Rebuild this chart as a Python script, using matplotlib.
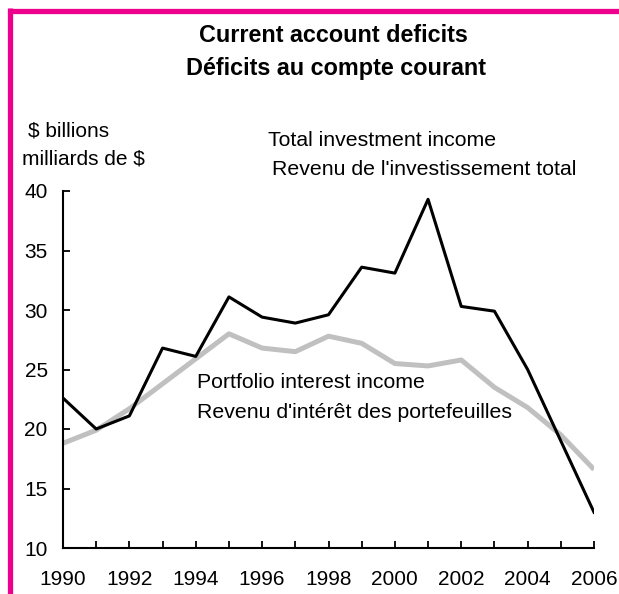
import matplotlib.pyplot as plt
from matplotlib.lines import Line2D

plt.rcParams['font.family'] = ['Liberation Sans', 'DejaVu Sans']

years = list(range(1990, 2007))
total_income = [22.6, 20.0, 21.1, 26.8, 26.1, 31.1, 29.4, 28.9, 29.6, 33.6,
                33.1, 39.3, 30.3, 29.9, 25.0, 19.0, 13.0]
portfolio_income = [18.8, 19.9, 21.7, 23.8, 25.9, 28.0, 26.8, 26.5, 27.8, 27.2,
                    25.5, 25.3, 25.8, 23.5, 21.8, 19.5, 16.6]
x_ticks = list(range(1990, 2007, 2))
y_ticks = [10, 15, 20, 25, 30, 35, 40]

W, H = 619, 594
fig = plt.figure(figsize=(W / 100, H / 100), dpi=100)
ax = fig.add_axes([63 / W, 1 - 548 / H, (594 - 63) / W, (548 - 191) / H])

ax.plot(years, portfolio_income, color='#c0c0c0', lw=3.6, solid_capstyle='butt', zorder=2)
ax.plot(years, total_income, color='black', lw=2.2, zorder=3)

ax.set_xlim(1990, 2006)
ax.set_ylim(10, 40)
ax.set_xticks(x_ticks)
ax.set_xticks(years, minor=True)
ax.set_yticks(y_ticks)
ax.tick_params(axis='both', which='both', direction='in', width=1.3, labelsize=15)
ax.tick_params(axis='x', which='both', length=5, pad=16)
ax.tick_params(axis='y', length=5, pad=11)
for side in ('top', 'right'):
    ax.spines[side].set_visible(False)
for side in ('left', 'bottom'):
    ax.spines[side].set_linewidth(1.5)

# titles and series labels
fig.text(333 / W, 1 - 36 / H, 'Current account deficits', ha='center', va='center',
         fontsize=16.8, fontweight='bold')
fig.text(336 / W, 1 - 69 / H, 'Déficits au compte courant', ha='center', va='center',
         fontsize=16.8, fontweight='bold')
fig.text(28 / W, 1 - 131 / H, '$ billions', ha='left', va='center', fontsize=15)
fig.text(22 / W, 1 - 159 / H, 'milliards de $', ha='left', va='center', fontsize=15)
fig.text(268 / W, 1 - 141 / H, 'Total investment income', ha='left', va='center', fontsize=15.3)
fig.text(272 / W, 1 - 170 / H, "Revenu de l'investissement total", ha='left', va='center', fontsize=15.3)
fig.text(197 / W, 1 - 383 / H, 'Portfolio interest income', ha='left', va='center', fontsize=15.3)
fig.text(197 / W, 1 - 412 / H, "Revenu d'intérêt des portefeuilles", ha='left', va='center', fontsize=15.3)

# magenta frame on top and left
pink = '#ec008c'
fig.add_artist(Line2D([10 / W, 10 / W], [1 - 8 / H, 0], color=pink, lw=3.8,
                      transform=fig.transFigure, solid_capstyle='butt'))
fig.add_artist(Line2D([7.5 / W, 1], [1 - 11 / H, 1 - 11 / H], color=pink, lw=3.8,
                      transform=fig.transFigure, solid_capstyle='butt'))

fig.savefig('out.png', dpi=100)
